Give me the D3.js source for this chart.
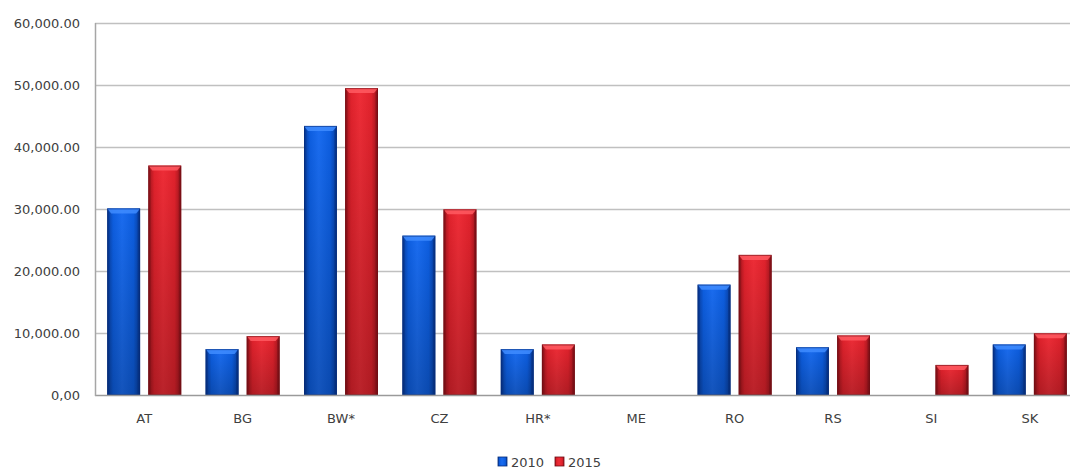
<!DOCTYPE html>
<html>
<head>
<meta charset="utf-8">
<script src="https://cdn.jsdelivr.net/npm/d3@7"></script>
<style>
  html, body { margin: 0; padding: 0; background: #ffffff; overflow: hidden; }
  svg { display: block; }
  text { font-family: "DejaVu Sans", Verdana, sans-serif; fill: #404040; }
</style>
</head>
<body>
<svg id="chart" width="1070" height="471"></svg>
<script>
// Regions and yearly values
const categories = ["AT", "BG", "BW*", "CZ", "HR*", "ME", "RO", "RS", "SI", "SK"];
const seriesNames = ["2010", "2015"];
const values2010 = [30100, 7400, 43400, 25700, 7400, 0, 17800, 7700, 0, 8150];
const values2015 = [37000, 9500, 49500, 29950, 8150, 0, 22600, 9600, 4850, 9950];
const yTicks = [0, 10000, 20000, 30000, 40000, 50000, 60000];
const yTickLabels = ["0,00", "10,000.00", "20,000.00", "30,000.00", "40,000.00", "50,000.00", "60,000.00"];

const svg = d3.select("#chart");
const W = 1070, H = 471;
const margin = { left: 95, top: 23, bottom: 76 };
const plotRight = 1079; // plot area runs slightly past the visible edge

const x0 = d3.scaleBand().domain(categories)
  .range([margin.left, plotRight])
  .paddingInner(0.248).paddingOuter(0.124);
const x1 = d3.scaleBand().domain(seriesNames)
  .range([0, x0.bandwidth()]).paddingInner(0.2);
const y = d3.scaleLinear().domain([0, 60000]).range([H - margin.bottom, margin.top]);

// Gradients for the shaded bar look
const defs = svg.append("defs");
const palettes = {
  "2010": { dark: "#083c9c", mid: "#0d5ee0", light: "#1a6cf0", edge: "#062c78", bevel: "#3f8cff" },
  "2015": { dark: "#9c141c", mid: "#e0222c", light: "#ee2d37", edge: "#6e0e14", bevel: "#ff5a62" }
};
Object.entries(palettes).forEach(([k, p]) => {
  const g = defs.append("linearGradient").attr("id", "h" + k)
    .attr("x1", "0%").attr("x2", "100%").attr("y1", "0%").attr("y2", "0%");
  g.append("stop").attr("offset", "0%").attr("stop-color", p.dark);
  g.append("stop").attr("offset", "18%").attr("stop-color", p.mid);
  g.append("stop").attr("offset", "45%").attr("stop-color", p.light);
  g.append("stop").attr("offset", "80%").attr("stop-color", p.mid);
  g.append("stop").attr("offset", "100%").attr("stop-color", p.dark);
});
const vg = defs.append("linearGradient").attr("id", "shade")
  .attr("x1", "0%").attr("x2", "0%").attr("y1", "0%").attr("y2", "100%");
vg.append("stop").attr("offset", "0%").attr("stop-color", "#000").attr("stop-opacity", 0);
vg.append("stop").attr("offset", "100%").attr("stop-color", "#000").attr("stop-opacity", 0.22);

// Horizontal gridlines
const grid = svg.append("g");
grid.selectAll("line").data(yTicks.filter(t => t > 0)).join("line")
  .attr("x1", margin.left).attr("x2", W)
  .attr("y1", d => Math.round(y(d)) + 0.5).attr("y2", d => Math.round(y(d)) + 0.5)
  .attr("stroke", "#c0c0c0").attr("stroke-width", 1.5);

// Y axis labels
const yAxis = d3.axisLeft(y).tickValues(yTicks)
  .tickFormat((d, i) => yTickLabels[i]).tickSize(0).tickPadding(15);
const gy = svg.append("g").attr("transform", `translate(${margin.left},0)`).call(yAxis);
gy.select(".domain").remove();
gy.selectAll("text").style("font-size", "13px").attr("fill", "#404040")
  .style("font-family", "'DejaVu Sans', Verdana, sans-serif");

// Bars
const rows = categories.map((c, i) => ({ cat: c, vals: [
  { key: "2010", v: values2010[i] }, { key: "2015", v: values2015[i] }] }));
const groups = svg.append("g").selectAll("g").data(rows).join("g")
  .attr("transform", d => `translate(${x0(d.cat)},0)`);
const bars = groups.selectAll("g.bar").data(d => d.vals.filter(b => b.v > 0)).join("g").attr("class", "bar");
bars.each(function (d) {
  const g = d3.select(this);
  const bx = x1(d.key), bw = x1.bandwidth();
  const by = y(d.v), bh = y(0) - y(d.v);
  const p = palettes[d.key];
  g.append("rect").attr("x", bx).attr("y", by).attr("width", bw).attr("height", bh)
    .attr("fill", `url(#h${d.key})`);
  g.append("rect").attr("x", bx).attr("y", by).attr("width", bw).attr("height", bh)
    .attr("fill", "url(#shade)");
  const b = 4;
  // top bevel
  g.append("polygon")
    .attr("points", [[bx, by], [bx + bw, by], [bx + bw - b, by + b + 1], [bx + b, by + b + 1]].join(" "))
    .attr("fill", p.bevel).attr("opacity", 0.85);
  // side bevels
  g.append("polygon")
    .attr("points", [[bx, by], [bx + b * 0.6, by + b + 1], [bx + b * 0.6, y(0)], [bx, y(0)]].join(" "))
    .attr("fill", p.edge).attr("opacity", 0.35);
  g.append("polygon")
    .attr("points", [[bx + bw, by], [bx + bw - b * 0.6, by + b + 1], [bx + bw - b * 0.6, y(0)], [bx + bw, y(0)]].join(" "))
    .attr("fill", p.edge).attr("opacity", 0.5);
  g.append("rect").attr("x", bx + 0.5).attr("y", by + 0.5).attr("width", bw - 1).attr("height", bh - 1)
    .attr("fill", "none").attr("stroke", p.edge).attr("stroke-opacity", 0.6).attr("stroke-width", 1);
});

// Baseline and left axis line
svg.append("line").attr("x1", margin.left).attr("x2", W)
  .attr("y1", Math.round(y(0)) + 0.5).attr("y2", Math.round(y(0)) + 0.5)
  .attr("stroke", "#9a9a9a").attr("stroke-width", 1.5);
svg.append("line").attr("x1", margin.left + 0.5).attr("x2", margin.left + 0.5)
  .attr("y1", y(60000)).attr("y2", y(0) + 1)
  .attr("stroke", "#a6a6a6").attr("stroke-width", 1.5);

// Category labels
const xAxis = d3.axisBottom(x0).tickSize(0).tickPadding(19);
const gx = svg.append("g").attr("transform", `translate(0,${y(0)})`).call(xAxis);
gx.select(".domain").remove();
gx.selectAll("text").style("font-size", "13px").attr("fill", "#404040")
  .style("font-family", "'DejaVu Sans', Verdana, sans-serif");

// Legend
const legend = svg.append("g").attr("transform", "translate(498,457)");
const items = legend.selectAll("g").data(seriesNames).join("g")
  .attr("transform", (d, i) => `translate(${i * 57},0)`);
items.append("rect").attr("width", 9).attr("height", 9)
  .attr("fill", d => `url(#h${d})`).attr("stroke", d => palettes[d].edge).attr("stroke-width", 0.8);
items.append("text").attr("x", 13).attr("y", 9.5).text(d => d)
  .style("font-size", "13px");
</script>
</body>
</html>
